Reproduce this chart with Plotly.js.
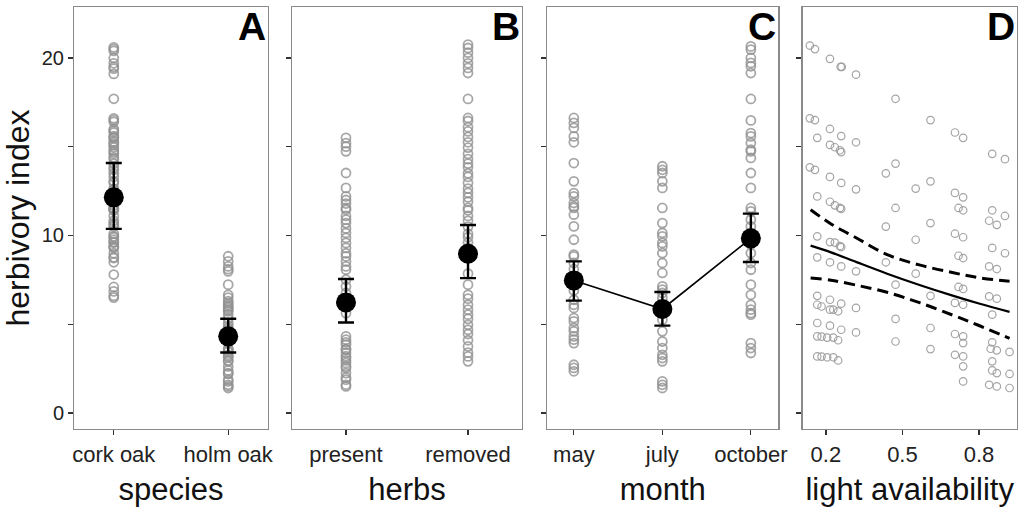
<!DOCTYPE html>
<html>
<head>
<meta charset="utf-8">
<script src="https://cdn.plot.ly/plotly-3.0.1.min.js"></script>
<style>html,body{margin:0;padding:0;background:#fff;}#chart{width:1018px;height:509px;}</style>
</head>
<body>
<div id="chart"></div>
<script>
// ---------- Data ----------
const speciesCats = ['cork oak', 'holm oak'];
const corkOakPts = [20.6, 20.5, 20.4, 20.0, 19.7, 19.5, 19.4, 19.1, 17.7, 16.6, 16.5, 16.4, 16.0, 15.9, 15.8, 15.6, 15.5, 15.5, 15.3, 15.2, 15.1, 14.97, 14.8, 14.7, 14.6, 14.4, 14.3, 14.05, 13.84, 13.7, 13.5, 13.3, 13.05, 12.96, 12.64, 12.6, 12.4, 12.2, 12.15, 11.9, 11.7, 11.55, 11.55, 11.5, 11.42, 11.42, 11.1, 10.83, 10.7, 10.6, 10.5, 10.1, 9.95, 9.9, 9.76, 9.63, 9.6, 9.4, 9.35, 9.3, 9.0, 8.77, 8.73, 8.49, 7.8, 7.1, 6.85, 6.6, 6.5];
const holmOakPts = [8.83, 8.54, 8.26, 8.1, 7.98, 7.23, 6.66, 6.5, 6.3, 6.2, 6.1, 6.0, 5.92, 5.82, 5.73, 5.54, 5.3, 5.07, 4.92, 4.79, 4.69, 4.54, 4.45, 4.32, 4.3, 4.25, 4.1, 4.03, 3.98, 3.94, 3.62, 3.6, 3.53, 3.44, 3.28, 3.19, 3.14, 2.96, 2.91, 2.63, 2.4, 2.25, 2.2, 1.88, 1.78, 1.59, 1.5, 1.41];
const speciesMean = [12.15, 4.32];
const speciesUpper = [14.08, 5.31];
const speciesLower = [10.37, 3.41];

const herbsCats = ['present', 'removed'];
const herbsPresentPts = [15.5, 15.2, 15.0, 14.74, 13.52, 12.68, 12.2, 12.0, 11.8, 11.55, 11.45, 11.1, 10.89, 10.7, 10.4, 10.14, 9.86, 9.58, 9.3, 9.0, 8.82, 8.54, 8.26, 8.07, 7.51, 7.13, 6.76, 6.4, 5.63, 4.32, 4.13, 3.98, 3.85, 3.6, 3.57, 3.38, 3.2, 3.1, 2.96, 2.82, 2.63, 2.54, 2.25, 2.0, 1.88, 1.59, 1.5];
const herbsRemovedPts = [20.75, 20.56, 20.3, 20.0, 19.7, 19.44, 19.15, 17.69, 16.62, 16.45, 16.1, 15.86, 15.55, 15.25, 14.95, 14.6, 14.3, 14.05, 13.84, 13.5, 13.3, 12.96, 12.64, 12.4, 12.15, 11.9, 11.55, 11.42, 11.1, 10.83, 10.5, 10.1, 9.9, 9.6, 9.3, 8.77, 7.85, 7.23, 6.66, 6.44, 6.1, 5.82, 5.54, 5.3, 4.97, 4.69, 4.45, 4.1, 3.75, 3.4, 3.19, 2.91];
const herbsMean = [6.23, 8.97];
const herbsUpper = [7.55, 10.59];
const herbsLower = [5.10, 7.60];

const monthCats = ['may', 'july', 'october'];
const mayPts = [16.62, 16.34, 16.06, 15.58, 15.25, 14.08, 13.05, 12.39, 12.2, 11.83, 11.64, 11.55, 11.17, 10.51, 9.76, 8.92, 8.82, 8.45, 8.1, 7.6, 7.2, 6.9, 6.38, 6.1, 5.92, 5.35, 5.16, 4.79, 4.6, 4.32, 4.13, 3.94, 2.72, 2.54, 2.35];
const julyPts = [13.9, 13.7, 13.52, 13.05, 12.68, 11.55, 10.7, 10.14, 9.95, 9.58, 9.39, 9.01, 8.45, 7.89, 7.13, 6.95, 6.76, 6.48, 6.0, 5.6, 5.26, 4.6, 4.03, 3.66, 3.28, 3.1, 2.91, 1.78, 1.59, 1.41];
const octoberPts = [20.65, 20.47, 20.0, 19.72, 19.53, 19.15, 17.69, 16.48, 15.77, 15.58, 15.21, 14.83, 14.74, 14.37, 13.52, 12.68, 11.55, 11.36, 10.89, 10.51, 10.14, 9.5, 9.01, 8.45, 8.07, 7.23, 6.66, 6.1, 5.82, 5.63, 5.54, 3.94, 3.66, 3.38];
const monthMean = [7.47, 5.86, 9.84];
const monthUpper = [8.54, 6.82, 11.23];
const monthLower = [6.33, 4.92, 8.51];

const lightX = [0.137, 0.157, 0.216, 0.258, 0.262, 0.318, 0.473, 0.137, 0.157, 0.61, 0.216, 0.706, 0.26, 0.166, 0.738, 0.318, 0.216, 0.235, 0.255, 0.26, 0.852, 0.902, 0.473, 0.137, 0.157, 0.435, 0.216, 0.61, 0.26, 0.552, 0.318, 0.706, 0.166, 0.738, 0.216, 0.235, 0.72, 0.473, 0.255, 0.26, 0.738, 0.852, 0.902, 0.84, 0.61, 0.87, 0.435, 0.706, 0.166, 0.738, 0.552, 0.216, 0.235, 0.255, 0.26, 0.852, 0.902, 0.72, 0.166, 0.738, 0.216, 0.435, 0.26, 0.84, 0.87, 0.318, 0.552, 0.473, 0.72, 0.738, 0.61, 0.166, 0.84, 0.87, 0.216, 0.706, 0.26, 0.738, 0.166, 0.183, 0.318, 0.216, 0.229, 0.248, 0.852, 0.473, 0.166, 0.216, 0.61, 0.26, 0.318, 0.706, 0.738, 0.166, 0.183, 0.205, 0.229, 0.248, 0.473, 0.852, 0.738, 0.846, 0.61, 0.87, 0.92, 0.706, 0.166, 0.738, 0.183, 0.205, 0.229, 0.248, 0.852, 0.738, 0.852, 0.87, 0.92, 0.738, 0.84, 0.87, 0.92];
const lightY = [20.7, 20.5, 19.95, 19.5, 19.5, 19.06, 17.7, 16.6, 16.5, 16.5, 16.0, 15.8, 15.6, 15.5, 15.5, 15.25, 15.1, 14.97, 14.8, 14.7, 14.6, 14.3, 14.05, 13.84, 13.7, 13.5, 13.3, 13.05, 12.96, 12.64, 12.6, 12.4, 12.2, 12.15, 11.9, 11.7, 11.55, 11.55, 11.55, 11.5, 11.42, 11.42, 11.1, 10.83, 10.7, 10.6, 10.5, 10.1, 9.95, 9.9, 9.76, 9.63, 9.6, 9.4, 9.35, 9.3, 9.0, 8.86, 8.77, 8.73, 8.49, 8.49, 8.26, 8.26, 8.11, 7.98, 7.85, 7.23, 7.1, 6.99, 6.6, 6.6, 6.57, 6.44, 6.38, 6.2, 6.16, 6.1, 6.1, 6.0, 5.92, 5.82, 5.82, 5.73, 5.54, 5.3, 5.07, 4.92, 4.79, 4.69, 4.54, 4.45, 4.32, 4.32, 4.3, 4.25, 4.25, 4.1, 4.03, 3.98, 3.94, 3.62, 3.6, 3.53, 3.44, 3.28, 3.19, 3.19, 3.18, 3.14, 3.14, 2.96, 2.91, 2.63, 2.4, 2.25, 2.2, 1.78, 1.59, 1.5, 1.41];

const fitX = [0.14, 0.22, 0.32, 0.44, 0.57, 0.70, 0.80, 0.92];
const fitMean = [9.43, 9.05, 8.5, 7.85, 7.2, 6.6, 6.17, 5.7];
const fitUpper = [11.45, 10.65, 9.86, 8.92, 8.33, 7.9, 7.62, 7.42];
const fitLower = [7.6, 7.48, 7.2, 6.8, 6.2, 5.5, 4.93, 4.2];

const panelLetters = ['A', 'B', 'C', 'D'];
const axisTitles = ['species', 'herbs', 'month', 'light availability'];
const yTickVals = [0, 5, 10, 15, 20];
const yTickText = ['0', '', '10', '', '20'];
const lightTickVals = [0.2, 0.5, 0.8];
const lightTickText = ['0.2', '0.5', '0.8'];

// ---------- Styling ----------
const FONT = 'Liberation Sans, Arial, sans-serif';
const ptColor = 'rgba(145,145,145,0.8)';
const ptMarker = {symbol: 'circle-open', size: 9, color: ptColor, line: {width: 1.8, color: ptColor}};

function colPoints(cat, vals, xa, ya) {
  return {type: 'scatter', mode: 'markers', x: vals.map(() => cat), y: vals,
    xaxis: xa, yaxis: ya, marker: ptMarker, hoverinfo: 'y', showlegend: false};
}
function meanTrace(cats, mean, upper, lower, xa, ya, withLine) {
  return {type: 'scatter', mode: withLine ? 'lines+markers' : 'markers', x: cats, y: mean,
    xaxis: xa, yaxis: ya, showlegend: false,
    line: {color: '#000', width: 1.6},
    marker: {color: '#000', size: 20},
    error_y: {type: 'data', symmetric: false,
      array: upper.map((u, i) => u - mean[i]),
      arrayminus: lower.map((l, i) => mean[i] - l),
      color: '#000', thickness: 2.4, width: 8}};
}

const traces = [
  colPoints(speciesCats[0], corkOakPts, 'x', 'y'),
  colPoints(speciesCats[1], holmOakPts, 'x', 'y'),
  meanTrace(speciesCats, speciesMean, speciesUpper, speciesLower, 'x', 'y', false),
  colPoints(herbsCats[0], herbsPresentPts, 'x2', 'y2'),
  colPoints(herbsCats[1], herbsRemovedPts, 'x2', 'y2'),
  meanTrace(herbsCats, herbsMean, herbsUpper, herbsLower, 'x2', 'y2', false),
  colPoints(monthCats[0], mayPts, 'x3', 'y3'),
  colPoints(monthCats[1], julyPts, 'x3', 'y3'),
  colPoints(monthCats[2], octoberPts, 'x3', 'y3'),
  meanTrace(monthCats, monthMean, monthUpper, monthLower, 'x3', 'y3', true),
  {type: 'scatter', mode: 'markers', x: lightX, y: lightY, xaxis: 'x4', yaxis: 'y4', showlegend: false,
    marker: {symbol: 'circle-open', size: 7.5, color: 'rgba(155,155,155,0.9)', line: {width: 1.2}}},
  {type: 'scatter', mode: 'lines', x: fitX, y: fitUpper, xaxis: 'x4', yaxis: 'y4', showlegend: false,
    line: {color: '#000', width: 3, dash: '11px,6px', shape: 'spline'}},
  {type: 'scatter', mode: 'lines', x: fitX, y: fitLower, xaxis: 'x4', yaxis: 'y4', showlegend: false,
    line: {color: '#000', width: 3, dash: '11px,6px', shape: 'spline'}},
  {type: 'scatter', mode: 'lines', x: fitX, y: fitMean, xaxis: 'x4', yaxis: 'y4', showlegend: false,
    line: {color: '#000', width: 2.2, shape: 'spline'}}
];

const W = 1018, H = 509;
const xDomPx = [[74.3, 267.7], [292.3, 521.7], [547.3, 778.3], [802.7, 1016.7]];
const yDomPx = [7, 429];
const yDom = [1 - yDomPx[1] / H, 1 - yDomPx[0] / H];
const yRange = [-0.9, 22.87];
const xRanges = [[-0.345, 1.345], [-0.44, 1.44], [-0.3, 2.31], [0.109, 0.948]];

const baseAxis = {showline: true, mirror: true, linecolor: '#8a8a8a', linewidth: 1.3,
  showgrid: false, zeroline: false, ticks: 'outside', ticklen: 5, tickwidth: 1.2, tickcolor: '#333',
  tickfont: {family: FONT, size: 20, color: '#222'}, fixedrange: true};

const layout = {width: W, height: H, margin: {l: 0, r: 0, t: 0, b: 0},
  paper_bgcolor: '#fff', plot_bgcolor: '#fff', font: {family: FONT, color: '#111'},
  showlegend: false, annotations: []};

for (let i = 0; i < 4; i++) {
  const s = i === 0 ? '' : String(i + 1);
  const xa = Object.assign({}, baseAxis, {
    domain: [xDomPx[i][0] / W, xDomPx[i][1] / W], anchor: 'y' + s, range: xRanges[i],
    tickfont: {family: FONT, size: 22, color: '#222'},
    title: {text: axisTitles[i], font: {family: FONT, size: 31, color: '#111'}, standoff: 12}
  });
  if (i < 3) { xa.type = 'category'; } else { xa.tickvals = lightTickVals; xa.ticktext = lightTickText; }
  const ya = Object.assign({}, baseAxis, {
    domain: yDom, anchor: 'x' + s, range: yRange, tickvals: yTickVals, ticktext: yTickText,
    showticklabels: i === 0
  });
  if (i === 0) ya.title = {text: 'herbivory index', font: {family: FONT, size: 32, color: '#111'}, standoff: 2};
  layout['xaxis' + s] = xa;
  layout['yaxis' + s] = ya;
  layout.annotations.push({text: '<b>' + panelLetters[i] + '</b>', xref: 'x' + s + ' domain', yref: 'y' + s + ' domain',
    x: 1, y: 1, xanchor: 'right', yanchor: 'top', showarrow: false, xshift: 0, yshift: 4,
    font: {family: FONT, size: 39, color: '#000'}});
}

Plotly.newPlot('chart', traces, layout, {staticPlot: true, displayModeBar: false});
</script>
</body>
</html>
